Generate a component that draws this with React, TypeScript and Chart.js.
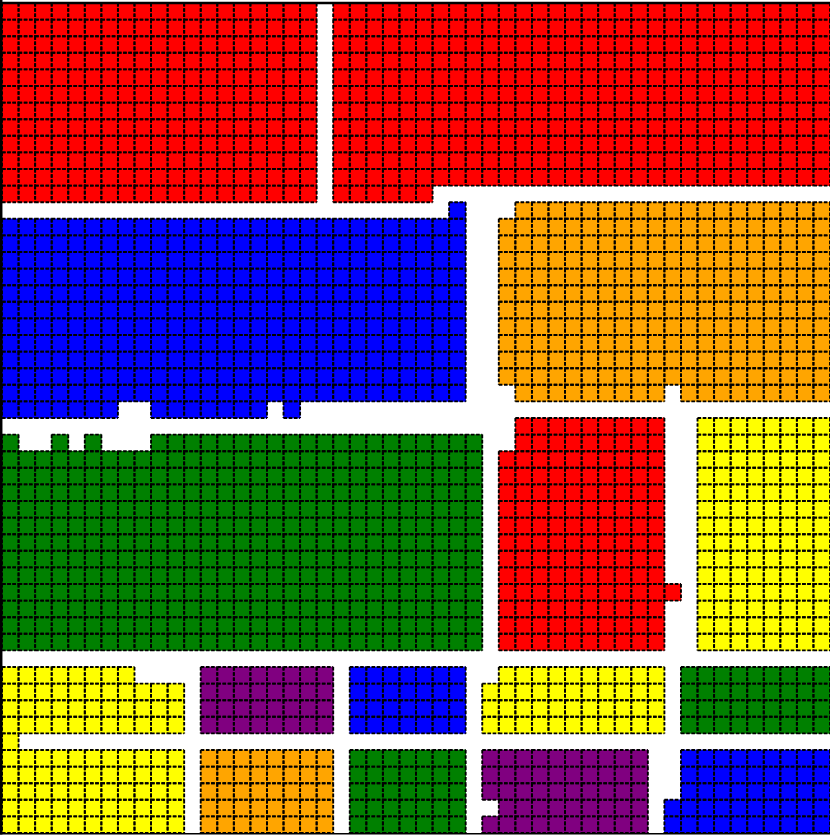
import React, { useEffect, useRef } from "react";
import { Chart, registerables } from "chart.js";

Chart.register(...registerables);

const GRID_COLS = 50;
const GRID_ROWS = 50;

// Each run: [rowFrom, rowTo, colFrom, colTo] (inclusive grid cell indices)
const redTopLeft = [[0, 11, 0, 18]];
const redTopRight = [[0, 10, 20, 49], [11, 11, 20, 25]];
const blueMiddle = [[12, 12, 27, 27], [13, 23, 0, 27], [24, 24, 0, 6], [24, 24, 9, 15], [24, 24, 17, 17]];
const orangeUpper = [[12, 12, 31, 49], [13, 22, 30, 49], [23, 23, 31, 39], [23, 23, 41, 49]];
const greenMiddle = [[26, 26, 0, 0], [26, 26, 3, 3], [26, 26, 5, 5], [26, 26, 9, 28], [27, 38, 0, 28]];
const redMiddle = [[25, 26, 31, 39], [27, 38, 30, 39], [35, 35, 40, 40]];
const yellowRight = [[25, 38, 42, 49]];
const yellowBottomLeft = [[40, 40, 0, 7], [41, 43, 0, 10], [44, 44, 0, 0], [45, 49, 0, 10]];
const purpleBottomA = [[40, 43, 12, 19]];
const blueBottomA = [[40, 43, 21, 27]];
const yellowBottomB = [[40, 40, 30, 39], [41, 43, 29, 39]];
const greenBottomA = [[40, 43, 41, 49]];
const orangeBottom = [[45, 49, 12, 19]];
const greenBottomB = [[45, 49, 21, 27]];
const purpleBottomB = [[45, 47, 29, 38], [48, 48, 30, 38], [49, 49, 29, 38]];
const blueBottomB = [[45, 47, 41, 49], [48, 49, 40, 49]];

const groupRuns = [
  redTopLeft, redTopRight, blueMiddle, orangeUpper, greenMiddle, redMiddle, yellowRight,
  yellowBottomLeft, purpleBottomA, blueBottomA, yellowBottomB, greenBottomA,
  orangeBottom, greenBottomB, purpleBottomB, blueBottomB,
];
const groupColors = [
  "#ff0000", "#ff0000", "#0000ff", "#ffa500", "#008000", "#ff0000", "#ffff00",
  "#ffff00", "#800080", "#0000ff", "#ffff00", "#008000",
  "#ffa500", "#008000", "#800080", "#0000ff",
];

function cellsFromRuns(runs: number[][]) {
  const pts: { x: number; y: number }[] = [];
  for (const [r0, r1, c0, c1] of runs) {
    for (let r = r0; r <= r1; r++) {
      for (let c = c0; c <= c1; c++) pts.push({ x: c + 0.5, y: r + 0.5 });
    }
  }
  return pts;
}

function cellSize(chart: any) {
  const xs = chart.scales.x;
  const ys = chart.scales.y;
  const w = Math.abs(xs.getPixelForValue(1) - xs.getPixelForValue(0));
  const h = Math.abs(ys.getPixelForValue(1) - ys.getPixelForValue(0));
  return { w, h };
}

const cellBorders = {
  id: "cellBorders",
  afterDatasetsDraw(chart: any) {
    const ctx = chart.ctx;
    const { w, h } = cellSize(chart);
    ctx.save();
    ctx.strokeStyle = "#000";
    ctx.lineWidth = 1.9;
    ctx.setLineDash([3.6, 1.6]);
    chart.data.datasets.forEach((_: any, i: number) => {
      const meta = chart.getDatasetMeta(i);
      meta.data.forEach((pt: any) => {
        const l = pt.x - w / 2, r = pt.x + w / 2, t = pt.y - h / 2, b = pt.y + h / 2;
        ctx.beginPath();
        ctx.moveTo(l, t); ctx.lineTo(r, t);
        ctx.moveTo(l, b); ctx.lineTo(r, b);
        ctx.moveTo(l, t); ctx.lineTo(l, b);
        ctx.moveTo(r, t); ctx.lineTo(r, b);
        ctx.stroke();
      });
    });
    ctx.restore();
  },
};

const frame = {
  id: "frame",
  afterDraw(chart: any) {
    const ctx = chart.ctx;
    const a = chart.chartArea;
    ctx.save();
    ctx.strokeStyle = "#000";
    ctx.setLineDash([]);
    ctx.lineWidth = 2.5;
    ctx.beginPath();
    ctx.moveTo(1.2, 0);
    ctx.lineTo(1.2, a.bottom + 1.5);
    ctx.moveTo(0, a.top);
    ctx.lineTo(chart.width, a.top);
    ctx.stroke();
    ctx.lineWidth = 1.5;
    ctx.beginPath();
    ctx.moveTo(0, a.bottom + 0.8);
    ctx.lineTo(chart.width, a.bottom + 0.8);
    ctx.stroke();
    ctx.restore();
  },
};

export default function App() {
  const ref = useRef<HTMLCanvasElement | null>(null);
  useEffect(() => {
    document.body.style.margin = "0";
    if (!ref.current) return;
    const datasets = groupRuns.map((runs, i) => ({
      label: `group ${i + 1}`,
      data: cellsFromRuns(runs),
      backgroundColor: groupColors[i],
      borderWidth: 0,
      pointStyle: "rect",
      pointRadius: (c: any) => {
        const { w, h } = cellSize(c.chart);
        return (Math.max(w, h) + 0.6) / Math.SQRT2;
      },
      pointHoverRadius: (c: any) => {
        const { w, h } = cellSize(c.chart);
        return (Math.max(w, h) + 0.6) / Math.SQRT2;
      },
    }));
    const chart = new Chart(ref.current, {
      type: "scatter",
      data: { datasets } as any,
      options: {
        animation: false,
        responsive: false,
        events: [],
        layout: { padding: { left: 2, top: 3, right: 0, bottom: 3 } },
        scales: {
          x: { type: "linear", min: 0, max: GRID_COLS, display: false },
          y: { type: "linear", min: 0, max: GRID_ROWS, reverse: true, display: false },
        },
        plugins: { legend: { display: false }, tooltip: { enabled: false } },
      } as any,
      plugins: [cellBorders, frame],
    });
    return () => chart.destroy();
  }, []);
  return (
    <div style={{ position: "absolute", left: 0, top: 0, width: 830, height: 836, background: "#fff" }}>
      <canvas ref={ref} width={830} height={836} style={{ display: "block" }} />
    </div>
  );
}
